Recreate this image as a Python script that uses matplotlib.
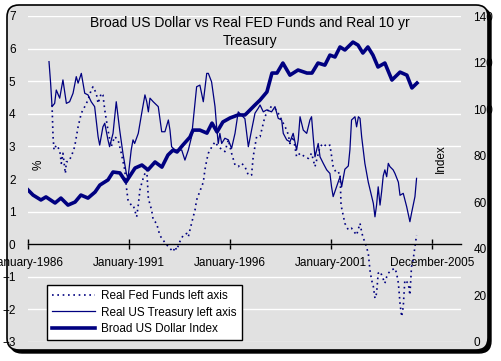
import matplotlib
matplotlib.use("Agg")
import matplotlib.pyplot as plt
from matplotlib.patches import FancyBboxPatch
from matplotlib.transforms import IdentityTransform
from matplotlib.lines import Line2D

plt.rcParams['font.family'] = ['Liberation Sans', 'DejaVu Sans']

# Broad US Dollar Index (right axis)
dollar_years = [1986.00, 1986.25, 1986.64, 1986.89, 1987.34, 1987.63, 1987.98, 1988.33,
                1988.62, 1988.97, 1989.32, 1989.56, 1989.96, 1990.21, 1990.55, 1990.85,
                1991.30, 1991.64, 1991.94, 1992.29, 1992.63, 1992.93, 1993.18, 1993.38,
                1993.67, 1994.02, 1994.17, 1994.51, 1994.86, 1995.11, 1995.36, 1995.65,
                1996.00, 1996.40, 1996.74, 1996.84, 1997.24, 1997.49, 1997.83, 1998.08,
                1998.33, 1998.62, 1998.97, 1999.37, 1999.81, 2000.06, 2000.36, 2000.70,
                2000.95, 2001.20, 2001.45, 2001.69, 2002.09, 2002.34, 2002.58, 2002.83,
                2003.08, 2003.33, 2003.67, 2004.02, 2004.42, 2004.76, 2005.01, 2005.26]
dollar_index = [65.3, 63.1, 61.0, 62.3, 59.7, 61.8, 58.8, 60.1,
                63.1, 61.8, 64.4, 67.4, 69.6, 73.0, 72.6, 68.7,
                74.7, 76.0, 73.9, 77.3, 75.1, 80.3, 82.4, 81.6,
                84.6, 88.0, 91.0, 91.0, 89.7, 94.0, 90.2, 94.5,
                96.2, 97.5, 97.5, 98.3, 101.8, 103.9, 107.4, 115.5,
                115.5, 119.8, 114.6, 116.8, 115.5, 115.5, 119.8, 118.9,
                123.2, 122.4, 126.7, 125.4, 128.8, 127.5, 124.1, 126.7,
                123.2, 118.1, 119.8, 112.5, 115.9, 114.6, 109.1, 111.2]

# Real US Treasury (left axis)
tsy_years = [1987.04, 1987.12, 1987.19, 1987.32, 1987.40, 1987.57, 1987.73, 1987.90,
             1988.06, 1988.23, 1988.39, 1988.48, 1988.64, 1988.81, 1988.97, 1989.13,
             1989.30, 1989.47, 1989.55, 1989.71, 1989.80, 1989.96, 1990.04, 1990.21,
             1990.37, 1990.54, 1990.70, 1990.87, 1990.95, 1991.11, 1991.20, 1991.28,
             1991.46, 1991.63, 1991.79, 1991.88, 1991.96, 1992.04, 1992.20, 1992.45,
             1992.62, 1992.78, 1992.95, 1993.03, 1993.11, 1993.28, 1993.61, 1993.77,
             1993.94, 1994.10, 1994.27, 1994.35, 1994.51, 1994.68, 1994.75, 1994.85,
             1994.93, 1995.09, 1995.26, 1995.34, 1995.42, 1995.50, 1995.59, 1995.75,
             1995.92, 1996.08, 1996.25, 1996.41, 1996.58, 1996.74, 1996.83, 1996.91,
             1997.07, 1997.24, 1997.40, 1997.49, 1997.65, 1997.82, 1998.06, 1998.23,
             1998.39, 1998.56, 1998.64, 1998.81, 1998.97, 1999.13, 1999.30, 1999.38,
             1999.47, 1999.63, 1999.80, 1999.96, 2000.04, 2000.12, 2000.21, 2000.29,
             2000.37, 2000.46, 2000.62, 2000.79, 2000.95, 2001.03, 2001.11, 2001.28,
             2001.45, 2001.53, 2001.69, 2001.86, 2001.94, 2002.02, 2002.19, 2002.27,
             2002.36, 2002.44, 2002.52, 2002.68, 2002.85, 2003.10, 2003.18, 2003.26,
             2003.34, 2003.43, 2003.51, 2003.59, 2003.67, 2003.76, 2003.84, 2003.92,
             2004.08, 2004.17, 2004.34, 2004.42, 2004.58, 2004.75, 2004.91, 2004.99,
             2005.16, 2005.24]
tsy_real = [5.60, 4.94, 4.22, 4.32, 4.73, 4.48, 5.04, 4.32,
            4.37, 4.63, 5.14, 4.94, 5.24, 4.63, 4.58, 4.37,
            4.22, 3.30, 3.04, 3.60, 3.71, 3.20, 2.99, 3.40,
            4.37, 3.50, 2.79, 2.17, 2.02, 2.89, 3.20, 3.09,
            3.40, 4.02, 4.58, 4.37, 4.06, 4.48, 4.37, 4.22,
            3.45, 3.45, 3.81, 3.50, 2.99, 2.89, 2.89, 2.58,
            2.89, 3.30, 4.32, 4.83, 4.88, 4.37, 4.73, 5.24,
            5.24, 4.98, 4.22, 3.60, 3.09, 3.40, 3.09, 3.25,
            3.20, 2.94, 3.40, 4.06, 3.95, 3.85, 3.40, 2.99,
            3.50, 4.02, 4.17, 4.27, 4.06, 4.12, 4.06, 4.22,
            3.86, 3.81, 3.40, 3.20, 3.14, 3.40, 2.89, 3.20,
            3.91, 3.50, 3.40, 3.81, 3.91, 3.30, 2.68, 2.89,
            3.09, 2.68, 2.48, 2.28, 2.17, 1.76, 1.46, 1.76,
            2.07, 1.76, 2.30, 2.40, 2.90, 3.81, 3.91, 3.60,
            3.91, 3.86, 3.30, 2.48, 1.90, 1.25, 0.84, 1.20,
            1.76, 1.20, 1.61, 2.10, 2.28, 2.07, 2.48, 2.38,
            2.28, 2.17, 1.90, 1.50, 1.56, 1.15, 0.69, 0.95,
            1.46, 2.02]

# Real Fed Funds (left axis)
ff_years = [1987.19, 1987.24, 1987.29, 1987.40, 1987.57, 1987.65, 1987.73, 1987.85,
            1987.90, 1987.98, 1988.14, 1988.31, 1988.48, 1988.64, 1988.81, 1988.97,
            1989.13, 1989.22, 1989.38, 1989.47, 1989.63, 1989.71, 1989.80, 1989.96,
            1990.12, 1990.29, 1990.46, 1990.62, 1990.79, 1990.87, 1990.95, 1991.11,
            1991.21, 1991.38, 1991.46, 1991.54, 1991.63, 1991.74, 1991.88, 1991.96,
            1992.12, 1992.20, 1992.37, 1992.45, 1992.53, 1992.62, 1992.87, 1993.03,
            1993.19, 1993.28, 1993.36, 1993.52, 1993.69, 1993.86, 1993.94, 1994.02,
            1994.18, 1994.27, 1994.35, 1994.51, 1994.68, 1994.76, 1994.85, 1994.93,
            1995.01, 1995.26, 1995.42, 1995.75, 1995.92, 1996.08, 1996.25, 1996.41,
            1996.58, 1996.74, 1996.91, 1997.07, 1997.15, 1997.32, 1997.49, 1997.57,
            1997.73, 1997.82, 1997.98, 1998.14, 1998.31, 1998.48, 1998.64, 1998.81,
            1998.89, 1998.97, 1999.13, 1999.30, 1999.47, 1999.71, 1999.88, 2000.04,
            2000.21, 2000.46, 2000.62, 2000.79, 2000.95, 2001.11, 2001.28, 2001.45,
            2001.50, 2001.60, 2001.69, 2001.86, 2002.02, 2002.27, 2002.44, 2002.52,
            2002.60, 2002.68, 2002.85, 2002.93, 2003.01, 2003.10, 2003.18, 2003.26,
            2003.34, 2003.43, 2003.51, 2003.67, 2003.76, 2003.84, 2004.00, 2004.17,
            2004.25, 2004.34, 2004.42, 2004.50, 2004.58, 2004.66, 2004.83, 2004.91,
            2004.99, 2005.07, 2005.16, 2005.24]
ff_real = [4.27, 3.30, 2.89, 3.04, 2.89, 2.48, 2.79, 2.17,
           2.53, 2.53, 2.68, 2.99, 3.60, 4.02, 4.22, 4.42,
           4.73, 4.83, 4.63, 4.32, 4.63, 4.58, 4.12, 3.50,
           2.99, 3.30, 3.20, 2.79, 2.28, 1.76, 1.36, 1.20,
           1.20, 0.84, 1.20, 1.66, 1.87, 2.10, 2.28, 1.40,
           1.05, 0.74, 0.64, 0.44, 0.28, 0.18, -0.02, -0.13,
           -0.23, -0.08, -0.18, 0.08, 0.28, 0.33, 0.23, 0.44,
           0.84, 1.05, 1.36, 1.62, 1.90, 2.28, 2.58, 2.79,
           2.89, 3.14, 2.99, 2.84, 3.20, 2.79, 2.43, 2.38,
           2.48, 2.38, 2.12, 2.12, 2.68, 3.30, 3.30, 3.50,
           3.91, 4.02, 4.22, 4.17, 4.12, 3.91, 3.71, 3.50,
           3.35, 3.09, 3.30, 2.68, 2.79, 2.68, 2.63, 2.79,
           2.38, 2.99, 3.09, 2.99, 3.04, 2.38, 2.17, 2.20,
           1.20, 0.90, 0.64, 0.44, 0.49, 0.28, 0.64, 0.38,
           0.18, 0.08, -0.28, -0.79, -1.09, -1.30, -1.66, -1.51,
           -0.89, -0.84, -0.94, -1.20, -1.00, -0.89, -0.79, -0.74,
           -0.89, -1.20, -1.81, -2.22, -1.92, -1.10, -1.20, -1.56,
           -0.69, -0.48, -0.08, 0.28]

tick_years = [1986.0, 1991.0, 1996.0, 2001.0, 2006.0]
tick_labels = ["January-1986", "January-1991", "January-1996", "January-2001", "December-2005"]

navy = "#000080"
bg = "#e1e1e1"

fig = plt.figure(figsize=(5.01, 3.61), dpi=100)

# rounded chart frame with shadow (pixel coordinates)
shadow = FancyBboxPatch((10, 8), 481, 345, boxstyle="round,pad=0,rounding_size=12",
                        transform=IdentityTransform(), facecolor="black", edgecolor="black",
                        zorder=-2)
frame = FancyBboxPatch((7, 11), 481, 345, boxstyle="round,pad=0,rounding_size=12",
                       transform=IdentityTransform(), facecolor=bg, edgecolor="black",
                       linewidth=1.2, zorder=-1)
fig.add_artist(shadow)
fig.add_artist(frame)

ax = fig.add_axes([28 / 501, 19 / 361, 433 / 501, 326 / 361])
ax.set_facecolor(bg)
ax.set_xlim(1986.0, 2007.44)
ax.set_ylim(-3, 7)
ax.set_yticks(range(-3, 8))
ax.grid(axis='y', color='white', linewidth=1)
ax.set_axisbelow(True)

for s in ['left', 'right', 'top']:
    ax.spines[s].set_visible(False)
ax.spines['bottom'].set_position(('data', 0))
ax.spines['bottom'].set_linewidth(1)
ax.set_xticks(tick_years)
ax.set_xticklabels(tick_labels)
ax.tick_params(axis='x', direction='inout', length=7, width=1, pad=6, labelsize=8.5)
ax.tick_params(axis='y', length=0, pad=9, labelsize=8.5)

ax.plot(ff_years, ff_real, color=navy, linewidth=1.2, linestyle=(0, (1, 2.2)),
        label="Real Fed Funds left axis")
ax.plot(tsy_years, tsy_real, color=navy, linewidth=0.9, label="Real US Treasury left axis")

ax2 = ax.twinx()
ax2.set_ylim(0, 140)
ax2.set_yticks(range(0, 141, 20))
for s in ax2.spines.values():
    s.set_visible(False)
ax2.tick_params(axis='y', length=0, pad=9, labelsize=8.5)
ax2.plot(dollar_years, dollar_index, color=navy, linewidth=2.6, label="Broad US Dollar Index")

ax.text(0.025, 0.543, "%", transform=ax.transAxes, rotation=90, fontsize=8.5,
        ha='center', va='center')
ax.text(0.954, 0.564, "Index", transform=ax.transAxes, rotation=90, fontsize=8.5,
        ha='center', va='center')

fig.text(250 / 501, 1 - 32 / 361, "Broad US Dollar vs Real FED Funds and Real 10 yr\nTreasury",
         ha='center', va='center', fontsize=10, linespacing=1.45)

handles = [Line2D([], [], color=navy, linewidth=1.2, linestyle=(0, (1, 2.2))),
           Line2D([], [], color=navy, linewidth=0.9),
           Line2D([], [], color=navy, linewidth=2.6)]
labels = ["Real Fed Funds left axis", "Real US Treasury left axis", "Broad US Dollar Index"]
leg = ax2.legend(handles, labels, loc='lower left', bbox_to_anchor=(0.044, 0.006),
                 borderaxespad=0, fontsize=8.5, handlelength=3.6, handletextpad=0.5,
                 labelspacing=0.35, borderpad=0.45, fancybox=False, framealpha=1,
                 edgecolor='black', facecolor='white')
leg.get_frame().set_linewidth(1)

fig.savefig("out.png", dpi=100, facecolor="white")
